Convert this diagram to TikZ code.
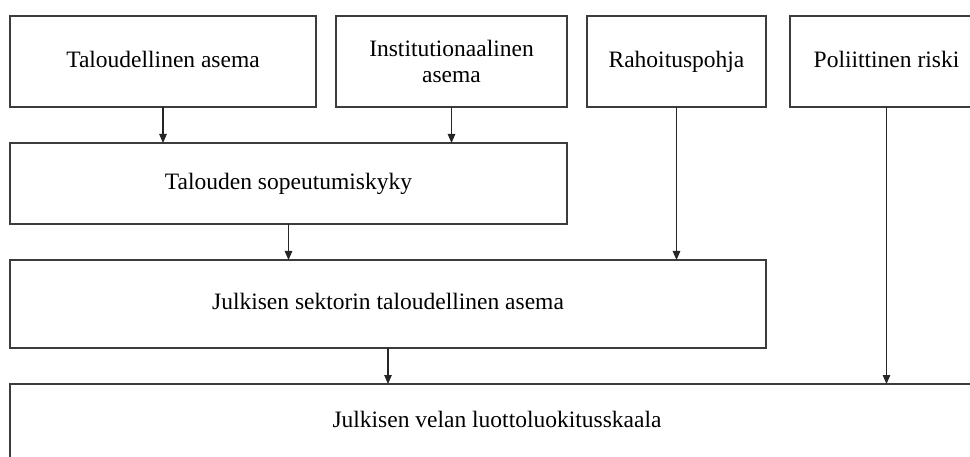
\documentclass[tikz,border=0pt]{standalone}
\usepackage{fontspec}
\setmainfont{Liberation Serif}
\usetikzlibrary{arrows.meta}
\definecolor{edge}{RGB}{60,60,60}
\tikzset{
  box/.style={draw=edge, line width=1.3pt, rectangle, inner sep=0pt, outer sep=0pt,
    align=center, font=\fontsize{23.5}{26}\selectfont, text=black},
  one/.style={text height=16pt, text depth=4pt},
  arr/.style={draw=black!85, line width=1.1pt, -{Triangle[length=9pt,width=7.5pt]}}
}
\begin{document}
\begin{tikzpicture}[x=1pt,y=-1pt]
\useasboundingbox (0,0) rectangle (970,457);
\clip (0,0) rectangle (970,457);
\node[box, one, minimum width=306pt, minimum height=91pt] (b1) at (163,61.5) {Taloudellinen asema};
\node[box, minimum width=231pt, minimum height=91pt] (b2) at (451.5,61.5) {\rule{0pt}{4pt}Institutionaalinen\\asema};
\node[box, one, minimum width=179pt, minimum height=91pt] (b3) at (676.5,61.5) {Rahoituspohja};
\node[box, one, minimum width=193pt, minimum height=91pt] (b4) at (886.5,61.5) {Poliittinen riski};
\node[box, one, minimum width=557pt, minimum height=81pt] (b5) at (288.5,183.5) {Talouden sopeutumiskyky};
\node[box, one, minimum width=756pt, minimum height=88pt] (b6) at (388,304) {Julkisen sektorin taloudellinen asema};
\node[box, one, minimum width=974pt, minimum height=74pt] (b7) at (497,421) {Julkisen velan luottoluokitusskaala};
\draw[arr] (b1.south) -- (b1.south |- b5.north);
\draw[arr] (b2.south) -- (b2.south |- b5.north);
\draw[arr] (b5.south) -- (b5.south |- b6.north);
\draw[arr] (b3.south) -- (b3.south |- b6.north);
\draw[arr] (b6.south) -- (b6.south |- b7.north);
\draw[arr] (b4.south) -- (b4.south |- b7.north);
\end{tikzpicture}
\end{document}
